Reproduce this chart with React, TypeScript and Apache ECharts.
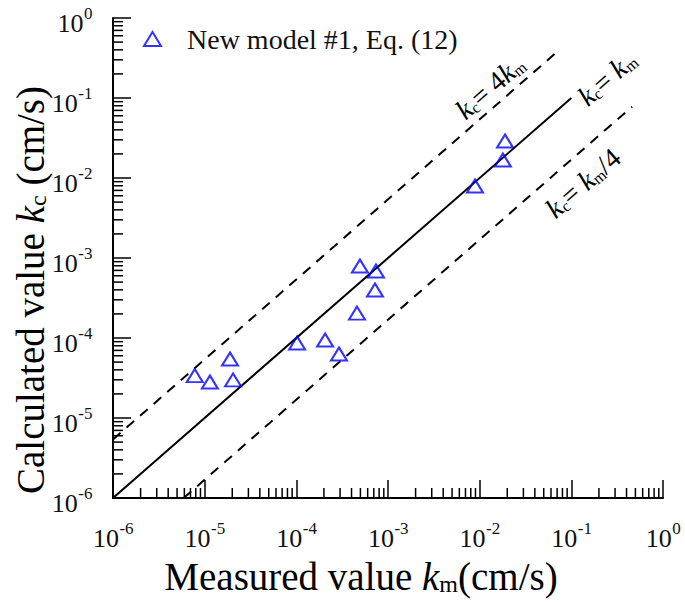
import React, { useEffect, useRef } from 'react';
import * as echarts from 'echarts';

const seriesName = 'New model #1, Eq. (12)';
// measured k_m (cm/s)
const measured = [7.8e-6, 1.14e-5, 1.89e-5, 2.04e-5, 1.02e-4, 2.06e-4, 2.92e-4, 4.59e-4, 4.94e-4, 7.39e-4, 7.21e-4, 8.89e-3, 1.79e-2, 1.89e-2];
// calculated k_c (cm/s)
const calculated = [3.39e-5, 2.82e-5, 5.46e-5, 2.99e-5, 8.66e-5, 9.44e-5, 6.31e-5, 2.05e-4, 7.94e-4, 6.88e-4, 3.98e-4, 7.94e-3, 1.68e-2, 2.9e-2];

const axisMin = 1e-6;
const axisMax = 1;
const decadeExponents = [-6, -5, -4, -3, -2, -1];
const labelExponents = [-6, -5, -4, -3, -2, -1, 0];
const minorMultipliers = [2, 3, 4, 5, 6, 7, 8, 9];

const lineEqual = [[1e-6, 1e-6], [0.1, 0.1]];
const lineUpper = [[1e-6, 5.4e-6], [0.075, 0.405]];
const lineLower = [[5.9e-6, 1e-6], [0.46, 0.078]];

const FONT = 'Liberation Serif';
const BASE_SIZE = 26;
const SUP_SIZE = 17;

const minorTicks: number[] = [];
decadeExponents.forEach((e) => minorMultipliers.forEach((m) => minorTicks.push(m * Math.pow(10, e))));

const DEG = Math.atan(80 / 91.67);

let measureCtx: CanvasRenderingContext2D | null = null;
function textWidth(s: string, size: number) {
  if (!measureCtx) measureCtx = document.createElement('canvas').getContext('2d');
  if (!measureCtx) return s.length * size * 0.5;
  measureCtx.font = `${size}px "${FONT}"`;
  return measureCtx.measureText(s).width;
}

function plainText(text: string, x: number, y: number, size: number) {
  return {
    type: 'text',
    x,
    y,
    silent: true,
    style: {
      text,
      font: `${size}px "${FONT}"`,
      fontSize: size,
      fontFamily: FONT,
      fill: '#111',
      align: 'left',
      verticalAlign: 'middle',
    },
  };
}

function tickLabel(left: number, baseY: number, supY: number, e: number) {
  const w10 = textWidth('10', BASE_SIZE);
  return [plainText('10', left, baseY, BASE_SIZE), plainText(String(e), left + w10 + 0.5, supY, SUP_SIZE)];
}

export default function App() {
  const ref = useRef<HTMLDivElement>(null);
  useEffect(() => {
    if (!ref.current) return;
    const chart = echarts.init(ref.current, undefined, { renderer: 'svg' });
    const diagRich = {
      k: { fontSize: 28, fontFamily: FONT, fontStyle: 'italic', color: '#111' },
      c: { fontSize: 16, fontFamily: FONT, color: '#111', verticalAlign: 'bottom' },
      n: { fontSize: 28, fontFamily: FONT, color: '#111' },
    };
    const titleRich = {
      t: { fontSize: 39, fontFamily: FONT, color: '#111' },
      k: { fontSize: 39, fontFamily: FONT, fontStyle: 'italic', color: '#111' },
      c: { fontSize: 24, fontFamily: FONT, color: '#111', verticalAlign: 'bottom' },
    };
    const axisCommon = {
      type: 'log',
      logBase: 10,
      min: axisMin,
      max: axisMax,
      splitNumber: 6,
      axisLine: { show: true, lineStyle: { color: '#000', width: 2 } },
      axisTick: { show: true, inside: true, length: 18, lineStyle: { color: '#000', width: 1.5 } },
      minorTick: { show: false },
      splitLine: { show: false },
      axisLabel: { show: false },
    };
    const baseGraphic: any[] = [
      {
        type: 'text',
        x: 361,
        y: 576,
        style: {
          text: '{t|Measured value }{k|k}{c|m}{t|(cm/s)}',
          align: 'center',
          verticalAlign: 'middle',
          rich: titleRich,
        },
      },
      {
        type: 'text',
        x: 30,
        y: 290,
        rotation: Math.PI / 2,
        style: {
          text: '{t|Calculated value }{k|k}{c|c}{t| (cm/s)}',
          align: 'center',
          verticalAlign: 'middle',
          rich: titleRich,
        },
      },
      {
        type: 'text',
        x: 490,
        y: 87,
        rotation: DEG,
        style: { text: '{k|k}{c|c}{n|= 4}{k|k}{c|m}', align: 'center', verticalAlign: 'middle', rich: diagRich },
      },
      {
        type: 'text',
        x: 607,
        y: 78,
        rotation: DEG,
        style: { text: '{k|k}{c|c}{n|= }{k|k}{c|m}', align: 'center', verticalAlign: 'middle', rich: diagRich },
      },
      {
        type: 'text',
        x: 583,
        y: 183,
        rotation: DEG,
        style: { text: '{k|k}{c|c}{n|= }{k|k}{c|m}{n|/4}', align: 'center', verticalAlign: 'middle', rich: diagRich },
      },
    ];
    const option: any = {
      animation: false,
      textStyle: { fontFamily: FONT },
      grid: { left: 113, right: 22, top: 18, bottom: 105 },
      legend: {
        data: [seriesName],
        left: 138,
        top: 20,
        itemWidth: 17,
        itemHeight: 14,
        textStyle: { fontSize: 28, fontFamily: FONT, color: '#111', padding: [0, 0, 0, 21] },
      },
      xAxis: { ...axisCommon },
      yAxis: { ...axisCommon },
      series: [
        {
          type: 'line',
          data: lineEqual,
          symbol: 'none',
          silent: true,
          lineStyle: { color: '#000', width: 2 },
          z: 2,
        },
        {
          type: 'line',
          data: lineUpper,
          symbol: 'none',
          silent: true,
          lineStyle: { color: '#000', width: 2, type: [10, 8] },
          z: 2,
        },
        {
          type: 'line',
          data: lineLower,
          symbol: 'none',
          silent: true,
          lineStyle: { color: '#000', width: 2, type: [10, 8] },
          z: 2,
        },
        {
          name: seriesName,
          type: 'scatter',
          symbol: 'triangle',
          symbolSize: [16, 13],
          data: measured.map((x, i) => [x, calculated[i]]),
          itemStyle: { color: 'rgba(0,0,0,0)', borderColor: '#0000ff', borderWidth: 2 },
          z: 4,
        },
        {
          type: 'custom',
          silent: true,
          data: minorTicks.map((v) => [v, axisMin]),
          renderItem: (params: any, api: any) => {
            const p = api.coord([api.value(0), axisMin]);
            return {
              type: 'line',
              shape: { x1: p[0], y1: p[1], x2: p[0], y2: p[1] - 10 },
              style: { stroke: '#000', lineWidth: 1.5 },
            };
          },
          z: 5,
        },
        {
          type: 'custom',
          silent: true,
          data: minorTicks.map((v) => [axisMin, v]),
          renderItem: (params: any, api: any) => {
            const p = api.coord([axisMin, api.value(1)]);
            return {
              type: 'line',
              shape: { x1: p[0], y1: p[1], x2: p[0] + 10, y2: p[1] },
              style: { stroke: '#000', lineWidth: 1.5 },
            };
          },
          z: 5,
        },
      ],
      graphic: baseGraphic,
    };
    chart.setOption(option);

    // tick labels placed through the axes' own scales
    const labelGraphic: any[] = [];
    labelExponents.forEach((e) => {
      const v = Math.pow(10, e);
      const total = textWidth('10', BASE_SIZE) + textWidth(String(e), SUP_SIZE);
      const px = chart.convertToPixel({ gridIndex: 0 }, [v, axisMin]) as number[];
      labelGraphic.push(...tickLabel(px[0] - total / 2, px[1] + 40, px[1] + 30, e));
      const py = chart.convertToPixel({ gridIndex: 0 }, [axisMin, v]) as number[];
      labelGraphic.push(...tickLabel(py[0] - 21 - total, py[1] + 5, py[1] - 5, e));
    });
    chart.setOption({ graphic: [...baseGraphic, ...labelGraphic] });
    return () => chart.dispose();
  }, []);
  return (
    <div
      ref={ref}
      style={{ position: 'fixed', left: 0, top: 0, width: 685, height: 603, background: '#fff' }}
    />
  );
}
